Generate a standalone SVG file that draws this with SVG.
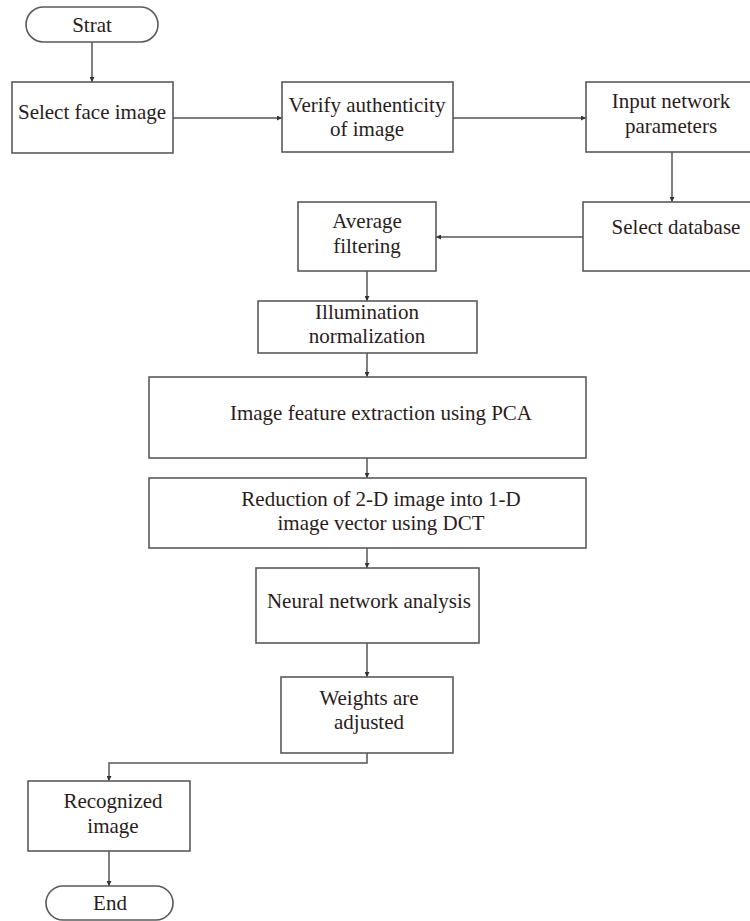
<svg xmlns="http://www.w3.org/2000/svg" width="750" height="921" viewBox="0 0 750 921">
<defs>
<style>
.box{fill:#fff;stroke:#5a5a5a;stroke-width:1.6}
.t{font-family:"Liberation Serif","Times New Roman",serif;font-size:21px;fill:#2b1c1c;text-anchor:middle}
.c{fill:none;stroke:#555;stroke-width:1.5}
</style>
<marker id="ah" viewBox="0 0 10 10" refX="10" refY="5" markerWidth="5" markerHeight="5" orient="auto" markerUnits="userSpaceOnUse">
<path d="M0,0 L10,5 L0,10 z" fill="#333"/>
</marker>
</defs>
<rect width="750" height="921" fill="#fff"/>
<g id="connectors">
<path class="c" d="M92,42 V82" marker-end="url(#ah)"/>
<path class="c" d="M173,118 H282" marker-end="url(#ah)"/>
<path class="c" d="M453,118 H586" marker-end="url(#ah)"/>
<path class="c" d="M672,152 V202" marker-end="url(#ah)"/>
<path class="c" d="M583,237 H436" marker-end="url(#ah)"/>
<path class="c" d="M367,271 V301" marker-end="url(#ah)"/>
<path class="c" d="M367,353 V377" marker-end="url(#ah)"/>
<path class="c" d="M367,458 V478" marker-end="url(#ah)"/>
<path class="c" d="M367,548 V568" marker-end="url(#ah)"/>
<path class="c" d="M367,643 V677" marker-end="url(#ah)"/>
<path class="c" d="M367,753 V763 H109 V781" marker-end="url(#ah)"/>
<path class="c" d="M109,851 V886" marker-end="url(#ah)"/>
</g>
<g id="start">
<rect class="box" x="26" y="7" width="132" height="35" rx="17.5"/>
<text class="t" x="92" y="32">Strat</text>
</g>
<g id="select-face">
<rect class="box" x="12" y="82" width="161" height="71"/>
<text class="t" x="92" y="119">Select face image</text>
</g>
<g id="verify">
<rect class="box" x="282" y="82" width="171" height="70"/>
<text class="t" x="367" y="112">Verify authenticity</text>
<text class="t" x="367" y="136">of image</text>
</g>
<g id="input-params">
<rect class="box" x="586" y="82" width="180" height="70"/>
<text class="t" x="671" y="108">Input network</text>
<text class="t" x="671" y="133">parameters</text>
</g>
<g id="select-db">
<rect class="box" x="583" y="202" width="180" height="69"/>
<text class="t" x="676" y="234">Select database</text>
</g>
<g id="average">
<rect class="box" x="298" y="202" width="138" height="69"/>
<text class="t" x="367" y="228">Average</text>
<text class="t" x="367" y="253">filtering</text>
</g>
<g id="illumination">
<rect class="box" x="258" y="301" width="219" height="52"/>
<text class="t" x="367" y="319">Illumination</text>
<text class="t" x="367" y="343">normalization</text>
</g>
<g id="pca">
<rect class="box" x="149" y="377" width="437" height="81"/>
<text class="t" x="381" y="420">Image feature extraction using PCA</text>
</g>
<g id="dct">
<rect class="box" x="149" y="478" width="437" height="70"/>
<text class="t" x="381" y="506">Reduction of 2-D image into 1-D</text>
<text class="t" x="381" y="530">image vector using DCT</text>
</g>
<g id="neural">
<rect class="box" x="256" y="568" width="223" height="75"/>
<text class="t" x="369" y="608">Neural network analysis</text>
</g>
<g id="weights">
<rect class="box" x="281" y="677" width="172" height="76"/>
<text class="t" x="369" y="705">Weights are</text>
<text class="t" x="369" y="729">adjusted</text>
</g>
<g id="recognized">
<rect class="box" x="28" y="781" width="162" height="70"/>
<text class="t" x="113" y="808">Recognized</text>
<text class="t" x="113" y="833">image</text>
</g>
<g id="end">
<rect class="box" x="46" y="886" width="127" height="34" rx="17"/>
<text class="t" x="110" y="910">End</text>
</g>
</svg>
